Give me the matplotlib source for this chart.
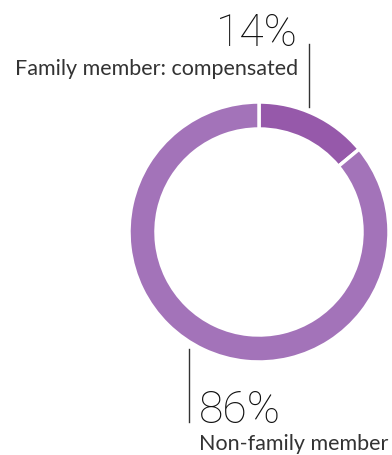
import matplotlib
matplotlib.use("Agg")
import matplotlib.pyplot as plt

labels = ["Family member: compensated", "Non-family member"]
shares = [14, 86]
colors = ["#9659aa", "#a373b9"]

W, H = 392, 456
fig = plt.figure(figsize=(W / 100, H / 100), dpi=100)
ax = fig.add_axes([0, 0, 1, 1])

cx, cy, r = 259, H - 233, 130
ax.pie(shares, colors=colors, startangle=90, counterclock=False,
       center=(cx, cy), radius=r, frame=True,
       wedgeprops=dict(width=27, edgecolor="white", linewidth=2.5))
ax.set_xlim(0, W)
ax.set_ylim(0, H)
ax.set_aspect("equal")
ax.axis("off")

# leader lines
ax.plot([309, 309], [H - 45, H - 108], color="#333333", lw=1)
ax.plot([189, 189], [H - 350, H - 423], color="#333333", lw=1)

ax.text(298, H - 46, f"{shares[0]}%", ha="right", va="baseline",
        fontsize=32, family="Roboto", fontweight="light", color="#111111")
ax.text(298, H - 75, labels[0], ha="right", va="baseline",
        fontsize=15.5, family="Lato", color="#333333")
ax.text(199, H - 423, f"{shares[1]}%", ha="left", va="baseline",
        fontsize=32, family="Roboto", fontweight="light", color="#111111")
ax.text(199, H - 450, labels[1], ha="left", va="baseline",
        fontsize=15.5, family="Lato", color="#333333")

fig.savefig("out.png", dpi=100)
